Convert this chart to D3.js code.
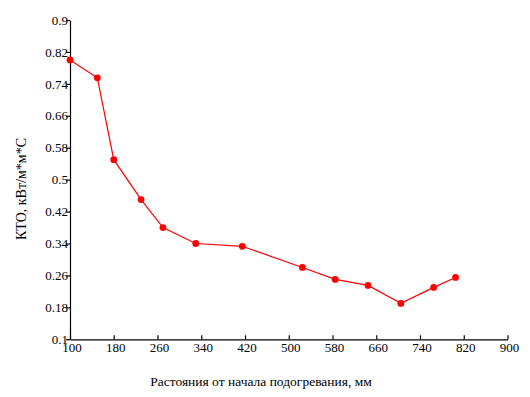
<!DOCTYPE html>
<html>
<head>
<meta charset="utf-8">
<script src="https://cdn.jsdelivr.net/npm/d3@7"></script>
<style>
  body { margin: 0; background: #fff; }
</style>
</head>
<body>
<script>
// distance from the start of heating, mm
var distances = [100, 150, 180, 230, 270, 330, 415, 525, 585, 645, 705, 765, 805];
// KTO values, kW/m*m*C
var ktoValues = [0.8, 0.755, 0.55, 0.45, 0.38, 0.34, 0.333, 0.28, 0.25, 0.235, 0.19, 0.23, 0.255];

var xTicks = [100, 180, 260, 340, 420, 500, 580, 660, 740, 820, 900];
var yTicks = [0.1, 0.18, 0.26, 0.34, 0.42, 0.5, 0.58, 0.66, 0.74, 0.82, 0.9];

var xTitle = "Растояния от начала подогревания, мм";
var yTitle = "КТО, кВт/м*м*С";

var width = 530;
var height = 397;
var serif = "'Liberation Serif', 'Times New Roman', serif";

var svg = d3.select("body").append("svg")
            .attr("width", width)
            .attr("height", height)
            .style("font-family", serif);

var x = d3.scaleLinear().domain([100, 900]).range([70, 507.5]);
var y = d3.scaleLinear().domain([0.1, 0.9]).range([339.3, 20]);

function fmt(v) {
    return String(+v.toFixed(2));
}

var xAxis = svg.append("g")
               .attr("transform", "translate(0," + y(0.1) + ")")
               .call(d3.axisBottom(x)
                       .tickValues(xTicks)
                       .tickFormat(fmt)
                       .tickSizeInner(-4)
                       .tickSizeOuter(0)
                       .tickPadding(3));

var yAxis = svg.append("g")
               .attr("transform", "translate(" + x(100) + ",0)")
               .call(d3.axisLeft(y)
                       .tickValues(yTicks)
                       .tickFormat(fmt)
                       .tickSizeInner(4)
                       .tickSizeOuter(0)
                       .tickPadding(-2));

svg.selectAll(".domain, .tick line")
   .attr("stroke", "#000")
   .attr("stroke-width", 1.2);

svg.selectAll(".tick text")
   .style("font-family", serif)
   .style("font-size", "13px")
   .attr("fill", "#000");

xAxis.selectAll(".tick text").attr("dx", 1.5);

var pts = distances.map(function (d, i) { return [d, ktoValues[i]]; });

var line = d3.line()
             .x(function (d) { return x(d[0]); })
             .y(function (d) { return y(d[1]); });

svg.append("path")
   .datum(pts)
   .attr("d", line)
   .attr("fill", "none")
   .attr("stroke", "#ff0000")
   .attr("stroke-width", 1.2);

svg.selectAll("circle.pt")
   .data(pts)
   .enter()
   .append("circle")
   .attr("class", "pt")
   .attr("cx", function (d) { return x(d[0]); })
   .attr("cy", function (d) { return y(d[1]); })
   .attr("r", 3.4)
   .attr("fill", "#ff0000");

svg.append("text")
   .attr("x", 261)
   .attr("y", 386)
   .attr("text-anchor", "middle")
   .style("font-family", serif)
   .style("font-size", "13.5px")
   .text(xTitle);

svg.append("text")
   .attr("transform", "translate(26,189) rotate(-90)")
   .attr("text-anchor", "middle")
   .style("font-family", serif)
   .style("font-size", "14px")
   .text(yTitle);
</script>
</body>
</html>
